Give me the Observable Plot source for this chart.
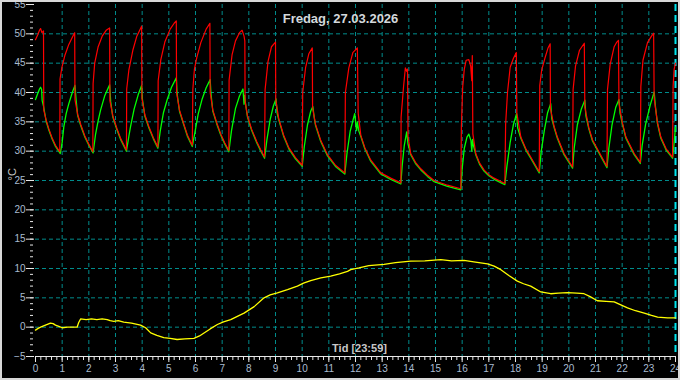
<!DOCTYPE html>
<html><head><meta charset="utf-8">
<script src="https://cdn.jsdelivr.net/npm/d3@7"></script>
<script src="https://cdn.jsdelivr.net/npm/@observablehq/plot@0.6"></script>
<style>
html,body{margin:0;padding:0;background:#fff;}
#chart svg{display:block;outline:2px solid #d8d8d8;outline-offset:-2px;}
</style></head><body><div id="chart"></div>
<script>
const title = "Fredag, 27.03.2026";
const xLabel = "Tid [23:59]";
const yLabel = "°C";
const xTicks = [0,1,2,3,4,5,6,7,8,9,10,11,12,13,14,15,16,17,18,19,20,21,22,23,24];
const yTicks = [-5,0,5,10,15,20,25,30,35,40,45,50,55];
const nowHour = 24;

// red: supply temperature [hour, °C]
const supply = [
[0.00,49.0],[0.08,49.8],[0.15,50.6],[0.19,50.9],[0.24,50.2],[0.30,50.5],[0.31,37.0],[0.40,35.3],[0.50,33.8],[0.62,32.3],[0.75,31.0],[0.91,29.9],
[0.92,42.3],[0.99,44.3],[1.10,46.3],[1.25,48.2],[1.40,49.6],[1.47,50.2],[1.48,38.8],[1.58,36.3],[1.70,34.5],[1.85,32.6],[2.00,31.2],[2.15,29.9],
[2.16,41.5],[2.22,45.0],[2.35,47.8],[2.50,49.6],[2.65,50.6],[2.78,51.0],[2.79,38.6],[2.90,36.0],[3.05,33.9],[3.20,32.1],[3.41,30.2],
[3.42,40.6],[3.50,43.8],[3.65,47.2],[3.80,49.6],[3.98,51.3],[3.99,39.0],[4.10,36.2],[4.25,34.2],[4.42,32.3],[4.59,30.7],
[4.60,42.0],[4.70,45.6],[4.85,48.6],[5.05,50.8],[5.20,51.8],[5.28,52.2],[5.29,40.0],[5.40,37.0],[5.55,34.8],[5.70,32.7],[5.88,31.0],
[5.90,40.5],[5.96,44.0],[6.05,46.0],[6.20,48.5],[6.40,50.8],[6.54,51.8],[6.55,40.0],[6.65,37.0],[6.80,34.8],[6.95,32.9],[7.10,31.4],[7.25,30.1],
[7.26,42.1],[7.37,46.4],[7.50,48.8],[7.65,50.2],[7.75,50.6],[7.82,49.6],[7.85,48.8],[7.86,38.5],[7.95,36.0],[8.10,33.8],[8.30,31.6],[8.45,30.2],[8.59,29.0],
[8.61,40.5],[8.72,45.3],[8.85,47.8],[9.00,48.6],[9.01,38.8],[9.12,35.6],[9.30,32.8],[9.50,30.6],[9.75,28.9],[10.00,27.6],
[10.02,40.0],[10.13,44.3],[10.25,46.6],[10.38,47.6],[10.39,37.4],[10.50,34.6],[10.70,31.8],[10.95,29.4],[11.25,27.6],[11.60,26.3],
[11.62,40.0],[11.75,44.2],[11.90,46.8],[12.07,47.6],[12.10,36.5],[12.20,32.7],[12.35,30.6],[12.57,28.5],[12.95,26.3],[13.32,25.4],[13.70,24.6],
[13.71,35.8],[13.80,40.9],[13.87,44.2],[13.92,43.6],[13.95,44.0],[13.97,32.5],[14.07,29.6],[14.25,28.1],[14.45,27.0],[14.70,25.9],[14.95,25.0],[15.45,24.2],[15.95,23.6],
[15.97,34.1],[16.02,40.9],[16.08,44.0],[16.15,45.5],[16.25,45.6],[16.32,44.5],[16.36,42.0],[16.38,46.3],[16.40,33.0],[16.51,29.6],[16.65,28.0],[16.82,26.8],[17.00,26.0],[17.20,25.4],[17.60,24.5],
[17.63,34.6],[17.70,40.0],[17.80,44.3],[17.92,45.8],[18.03,46.8],[18.05,36.5],[18.20,32.4],[18.40,30.3],[18.57,29.0],[18.89,26.5],
[18.91,41.2],[18.98,43.8],[19.10,45.8],[19.22,47.6],[19.30,48.3],[19.31,37.2],[19.45,34.2],[19.57,32.4],[19.82,29.6],[20.14,27.3],
[20.16,40.5],[20.25,44.5],[20.40,47.2],[20.58,48.4],[20.60,37.5],[20.75,34.0],[20.89,31.9],[21.20,29.3],[21.43,27.4],
[21.45,40.5],[21.55,44.8],[21.70,47.8],[21.80,48.6],[21.86,48.9],[21.88,38.2],[22.00,35.0],[22.14,32.4],[22.45,29.6],[22.68,28.1],
[22.70,41.0],[22.78,45.5],[22.95,48.5],[23.10,49.6],[23.18,50.1],[23.20,39.0],[23.32,35.0],[23.45,32.4],[23.65,30.4],[23.89,29.0],
[23.91,41.0],[23.95,44.0],[24.00,45.0]
];

// green: return temperature [hour, °C]
const ret = [
[0.00,38.8],[0.08,39.8],[0.15,40.6],[0.19,40.9],[0.23,40.5],[0.25,38.6],[0.30,37.7],[0.40,35.1],[0.50,33.6],[0.62,32.1],[0.75,30.8],[0.93,29.6],
[1.00,31.5],[1.06,34.1],[1.15,36.4],[1.25,38.1],[1.38,40.0],[1.48,41.2],[1.52,38.9],[1.58,36.1],[1.70,34.3],[1.85,32.4],[2.00,31.0],[2.16,29.7],
[2.25,32.8],[2.35,35.2],[2.44,37.0],[2.60,39.5],[2.78,41.3],[2.82,38.4],[2.90,35.8],[3.05,33.7],[3.20,31.9],[3.41,30.0],
[3.50,32.5],[3.56,34.1],[3.70,37.2],[3.85,39.6],[3.98,41.2],[4.01,38.8],[4.10,36.0],[4.25,34.0],[4.42,32.1],[4.59,30.5],
[4.68,33.5],[4.80,36.6],[4.94,38.8],[5.10,40.9],[5.28,42.5],[5.31,39.8],[5.40,36.8],[5.55,34.6],[5.70,32.5],[5.88,30.8],
[5.97,33.0],[6.10,36.3],[6.25,38.9],[6.40,40.8],[6.55,42.2],[6.58,39.8],[6.65,36.8],[6.80,34.6],[6.95,32.7],[7.10,31.2],[7.25,29.9],
[7.35,33.5],[7.50,37.3],[7.65,39.4],[7.78,40.6],[7.82,38.0],[7.84,39.5],[7.87,38.3],[7.95,35.8],[8.10,33.6],[8.30,31.4],[8.45,30.0],[8.59,28.8],
[8.68,32.0],[8.80,35.4],[8.92,37.7],[9.02,38.9],[9.06,36.5],[9.12,35.4],[9.30,32.6],[9.50,30.4],[9.75,28.7],[10.00,27.4],
[10.08,30.8],[10.20,34.5],[10.32,36.8],[10.40,37.6],[10.45,35.8],[10.50,34.4],[10.70,31.6],[10.95,29.2],[11.25,27.4],[11.60,26.1],
[11.68,29.6],[11.80,33.4],[11.97,36.4],[12.04,33.5],[12.07,35.0],[12.12,33.5],[12.20,32.5],[12.35,30.4],[12.57,28.3],[12.95,26.1],[13.32,25.2],[13.70,24.4],
[13.75,27.5],[13.83,31.0],[13.92,33.3],[13.97,31.2],[14.07,29.4],[14.25,27.9],[14.45,26.8],[14.70,25.7],[14.95,24.8],[15.45,24.0],[15.95,23.4],
[16.00,27.0],[16.08,30.5],[16.18,32.4],[16.25,32.9],[16.33,31.8],[16.36,30.0],[16.39,32.0],[16.42,31.0],[16.51,29.4],[16.65,27.8],[16.82,26.6],[17.00,25.8],[17.20,25.2],[17.60,24.3],
[17.68,27.5],[17.80,31.5],[17.92,34.5],[18.04,36.4],[18.08,34.0],[18.20,32.2],[18.40,30.1],[18.57,28.8],[18.89,26.3],
[18.96,29.8],[19.08,33.5],[19.20,36.5],[19.32,38.1],[19.36,35.5],[19.45,34.0],[19.57,32.2],[19.82,29.4],[20.14,27.1],
[20.20,30.5],[20.32,34.5],[20.47,37.2],[20.60,38.7],[20.64,36.0],[20.75,33.8],[20.89,31.7],[21.20,29.1],[21.43,27.2],
[21.50,30.5],[21.62,34.5],[21.76,37.5],[21.88,38.8],[21.92,36.5],[22.00,34.8],[22.14,32.2],[22.45,29.4],[22.68,27.9],
[22.75,31.0],[22.88,34.6],[23.05,37.8],[23.20,40.1],[23.25,37.5],[23.32,34.8],[23.45,32.2],[23.65,30.2],[23.89,28.8],
[23.95,31.5],[24.00,34.1]
];

// yellow: outdoor temperature [hour, °C]
const outdoor = [
[0,-0.5],[0.1,-0.2],[0.19,0],[0.35,0.3],[0.56,0.7],[0.66,0.6],[0.75,0.35],[0.9,0.1],[1.0,-0.1],[1.2,0],[1.56,0],[1.62,0.8],[1.69,1.4],[1.9,1.3],[2.1,1.4],[2.3,1.3],[2.5,1.4],[2.69,1.3],[2.8,1.1],[2.94,1.0],[3.1,1.1],[3.31,0.85],[3.6,0.7],[3.94,0.35],[4.13,-0.1],[4.32,-0.97],[4.55,-1.4],[4.81,-1.8],[5.05,-1.9],[5.31,-2.1],[5.6,-2.0],[5.94,-1.9],[6.15,-1.5],[6.32,-1.0],[6.55,-0.3],[6.82,0.45],[7.05,0.9],[7.32,1.3],[7.55,1.8],[7.82,2.4],[8.2,3.5],[8.57,5.0],[8.8,5.5],[9.07,5.85],[9.45,6.4],[9.82,7.0],[10.05,7.5],[10.32,7.95],[10.7,8.4],[11.07,8.7],[11.4,9.1],[11.7,9.5],[11.82,9.8],[12.13,10.1],[12.5,10.5],[13.07,10.7],[13.5,11.0],[14.07,11.25],[14.6,11.3],[15.2,11.5],[15.6,11.3],[16.07,11.4],[16.5,11.1],[16.95,10.8],[17.2,10.4],[17.45,9.8],[17.75,8.8],[18.07,7.85],[18.3,7.4],[18.57,7.0],[18.95,6.0],[19.32,5.7],[19.6,5.8],[19.95,5.9],[20.3,5.8],[20.57,5.7],[20.8,5.2],[21.07,4.5],[21.4,4.4],[21.7,4.3],[21.95,3.8],[22.2,3.3],[22.5,2.8],[22.83,2.4],[23.1,2.0],[23.33,1.7],[23.7,1.6],[24,1.6]
];

const toRows = arr => arr.map(([h, v]) => ({h, v}));
const gridColor = "#008c8c";
const tickColor = "#e8e8e8";
const labelColor = "#a9bcd0";

const chart = Plot.plot({
  width: 680, height: 380,
  marginLeft: 35, marginRight: 5, marginTop: 4, marginBottom: 24,
  style: {background: "#000", color: labelColor, fontFamily: "'Liberation Sans', Arial, sans-serif", fontSize: "10px"},
  x: {domain: [0, 24]},
  y: {domain: [-5, 55]},
  marks: [
    Plot.gridX(xTicks.slice(1, -1), {stroke: gridColor, strokeOpacity: 1, strokeDasharray: "4,3"}),
    Plot.gridY(yTicks.slice(1, -1), {stroke: gridColor, strokeOpacity: 1, strokeDasharray: "4,3"}),
    Plot.ruleX([nowHour], {stroke: "#00e5ee", strokeWidth: 2, strokeDasharray: "7,4"}),
    Plot.axisY(d3.range(-5, 55.001, 1), {tickSize: 3, text: null, label: null, stroke: tickColor, dx: -2}),
    Plot.axisY(yTicks, {tickSize: 8, tickPadding: 1, label: null, stroke: tickColor, fill: labelColor, dx: -1}),
    Plot.axisX(d3.range(0, 24.001, 0.2), {tickSize: 4, text: null, label: null, stroke: tickColor}),
    Plot.axisX(xTicks, {tickSize: 6, tickPadding: 2, label: null, stroke: tickColor, fill: labelColor}),
    Plot.ruleY([-5], {stroke: tickColor}),
    Plot.line(toRows(outdoor), {x: "h", y: "v", stroke: "#ffff00", strokeWidth: 1.3}),
    Plot.line(toRows(ret), {x: "h", y: "v", stroke: "#00ff00", strokeWidth: 1.3}),
    Plot.line(toRows(supply), {x: "h", y: "v", stroke: "#ff0000", strokeWidth: 1.2}),
    Plot.text([title], {frameAnchor: "top", lineAnchor: "middle", dy: 14, dx: -15, fill: "#d4d8dc", fontWeight: "bold", fontSize: 13}),
    Plot.text([xLabel], {frameAnchor: "bottom", lineAnchor: "middle", dy: -8, dx: 4, fill: "#c8c8c8", fontWeight: "bold", fontSize: 11}),
    Plot.text([yLabel], {frameAnchor: "left", rotate: -90, dx: -23, fill: "#c8c8c8", fontSize: 11})
  ]
});
document.getElementById("chart").append(chart);
</script></body></html>
